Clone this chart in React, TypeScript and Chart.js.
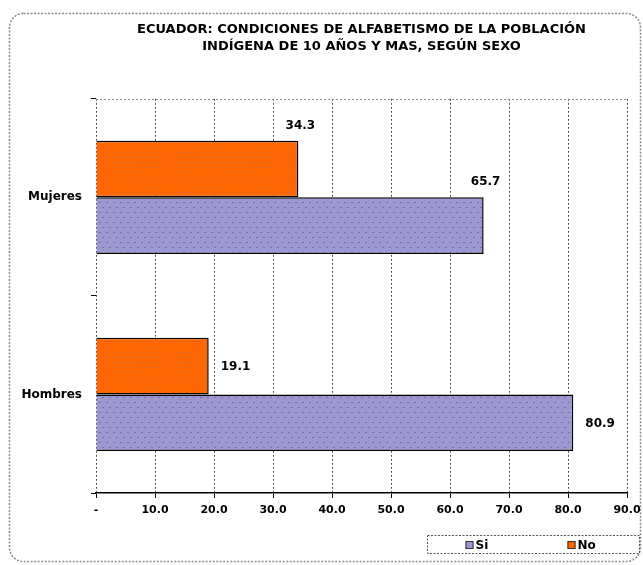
import { useEffect, useRef } from 'react';
import { Chart, registerables } from 'chart.js';

Chart.register(...registerables);

// ---- data ----
const categories = ['Mujeres', 'Hombres'];
const seriesNames = ['No', 'Si'];
const noValues = [34.3, 19.1];
const siValues = [65.7, 80.9];
const titleLines = [
  'ECUADOR: CONDICIONES DE ALFABETISMO DE LA POBLACIÓN',
  'INDÍGENA DE 10 AÑOS Y MAS, SEGÚN SEXO',
];
const axisMin = 0;
const axisMax = 90;
const axisStep = 10;

// ---- styles ----
const FONT = '"DejaVu Sans", "Liberation Sans", sans-serif';
const NO_COLOR = '#ff6600';
const NO_DOT = '#d8743e';
const SI_COLOR = '#9b99cf';
const SI_DOT = '#8d62b2';
const W = 643;
const H = 565;

function dotPattern(base: string, dot: string): CanvasPattern | string {
  const c = document.createElement('canvas');
  c.width = 7;
  c.height = 10;
  const g = c.getContext('2d');
  if (!g) return base;
  g.fillStyle = base;
  g.fillRect(0, 0, 7, 10);
  g.fillStyle = dot;
  g.fillRect(1, 2, 2, 1);
  g.fillRect(4, 7, 2, 1);
  return g.createPattern(c, 'repeat') || base;
}

// outer rounded dashed frame + top edge of the plot area
const framePlugin = {
  id: 'frame',
  beforeDraw(chart: any) {
    const ctx = chart.ctx;
    ctx.save();
    ctx.fillStyle = '#ffffff';
    ctx.fillRect(0, 0, chart.width, chart.height);
    ctx.strokeStyle = '#8c8c8c';
    ctx.lineWidth = 1.5;
    ctx.setLineDash([2, 1.5]);
    ctx.beginPath();
    ctx.roundRect(9.5, 13.5, chart.width - 12, chart.height - 17, 14);
    ctx.stroke();
    ctx.restore();
  },
  afterDraw(chart: any) {
    const { ctx, chartArea } = chart;
    ctx.save();
    ctx.strokeStyle = '#8c8c8c';
    ctx.lineWidth = 1;
    ctx.setLineDash([2, 2]);
    ctx.beginPath();
    ctx.moveTo(chartArea.left, Math.round(chartArea.top) + 0.5);
    ctx.lineTo(chartArea.right, Math.round(chartArea.top) + 0.5);
    ctx.stroke();
    ctx.restore();
  },
};

// value labels: above the bar end for the first group, right of the bar for the second
const valueLabelPlugin = {
  id: 'valueLabels',
  afterDatasetsDraw(chart: any) {
    const ctx = chart.ctx;
    ctx.save();
    ctx.fillStyle = '#000';
    ctx.font = `bold 12px ${FONT}`;
    chart.data.datasets.forEach((ds: any, di: number) => {
      const meta = chart.getDatasetMeta(di);
      meta.data.forEach((bar: any, i: number) => {
        const text = Number(ds.data[i]).toFixed(1);
        ctx.textBaseline = 'middle';
        if (i === 0) {
          ctx.textAlign = 'center';
          ctx.fillText(text, bar.x + 2, bar.y - bar.height / 2 - 15);
        } else {
          ctx.textAlign = 'left';
          ctx.fillText(text, bar.x + 12, bar.y + 1);
        }
      });
    });
    ctx.restore();
  },
};

// boxed legend at the bottom right
const boxLegendPlugin = {
  id: 'boxLegend',
  afterDraw(chart: any) {
    const ctx = chart.ctx;
    const left = 427.5;
    const top = 535.5;
    const right = chart.width - 3.5;
    const bottom = 553.5;
    ctx.save();
    ctx.strokeStyle = '#555';
    ctx.lineWidth = 1;
    ctx.setLineDash([2, 1.5]);
    ctx.strokeRect(left, top, right - left, bottom - top);
    ctx.setLineDash([]);
    // legend order: Si first, then No
    const order = [1, 0];
    const xs = [left + 38, left + 140];
    order.forEach((di, k) => {
      const ds = chart.data.datasets[di];
      const x = xs[k];
      ctx.fillStyle = ds.legendColor;
      ctx.fillRect(x, 541, 8, 8);
      ctx.strokeStyle = '#333';
      ctx.strokeRect(x + 0.5, 541.5, 7, 7);
      ctx.fillStyle = '#000';
      ctx.font = `bold 12px ${FONT}`;
      ctx.textAlign = 'left';
      ctx.textBaseline = 'middle';
      ctx.fillText(ds.label, x + 10, 546);
    });
    ctx.restore();
  },
};

export default function App() {
  const ref = useRef<HTMLCanvasElement | null>(null);

  useEffect(() => {
    document.body.style.margin = '0';
    const canvas = ref.current;
    if (!canvas) return;
    const chart = new Chart(canvas, {
      type: 'bar',
      data: {
        labels: categories,
        datasets: [
          {
            label: seriesNames[0],
            data: noValues,
            backgroundColor: dotPattern(NO_COLOR, NO_DOT) as any,
            borderColor: '#000',
            borderWidth: 1.5,
            legendColor: NO_COLOR,
          } as any,
          {
            label: seriesNames[1],
            data: siValues,
            backgroundColor: dotPattern(SI_COLOR, SI_DOT) as any,
            borderColor: '#000',
            borderWidth: 1.5,
            legendColor: SI_COLOR,
          } as any,
        ],
      },
      options: {
        indexAxis: 'y',
        responsive: false,
        animation: false,
        events: [],
        datasets: {
          bar: {
            categoryPercentage: 0.575,
            barPercentage: 1,
          },
        },
        layout: { padding: { top: 21, left: 0, right: 16, bottom: 42 } },
        plugins: {
          legend: { display: false },
          tooltip: { enabled: false },
          title: {
            display: true,
            text: titleLines,
            fullSize: false,
            color: '#000',
            font: { family: FONT, size: 13, weight: 'bold', lineHeight: 1.3 },
            padding: { top: 0, bottom: 44 },
          },
        },
        scales: {
          x: {
            min: axisMin,
            max: axisMax,
            afterFit: (s: any) => {
              s.height = 30;
              s.paddingLeft = 0;
              s.paddingRight = 0;
            },
            ticks: {
              stepSize: axisStep,
              maxRotation: 0,
              padding: 6,
              color: '#000',
              font: { family: FONT, size: 11, weight: 'bold' },
              callback: (v: any) => (Number(v) === 0 ? '-' : Number(v).toFixed(1)),
            },
            grid: {
              color: '#555',
              lineWidth: 1,
              drawTicks: true,
              tickLength: 5,
              tickColor: '#000',
              tickWidth: 1,
            },
            border: { display: true, color: '#000', width: 1.5, dash: [2, 2] },
          },
          y: {
            afterFit: (s: any) => {
              s.width = 96;
            },
            ticks: {
              padding: 9,
              color: '#000',
              font: { family: FONT, size: 12, weight: 'bold' },
            },
            grid: {
              drawOnChartArea: false,
              drawTicks: true,
              tickLength: 5,
              tickColor: '#000',
              offset: true,
            },
            border: { display: false },
          },
        },
      },
      plugins: [framePlugin, valueLabelPlugin, boxLegendPlugin],
    });
    return () => chart.destroy();
  }, []);

  return (
    <div style={{ width: W, height: H }}>
      <canvas ref={ref} width={W} height={H} />
    </div>
  );
}
